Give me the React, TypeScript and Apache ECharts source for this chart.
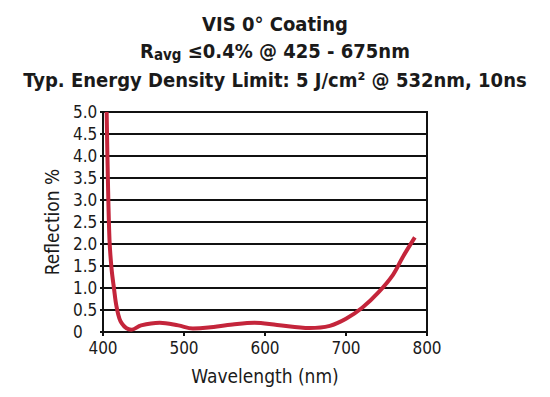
import React, { useEffect, useRef } from "react";
import * as echarts from "echarts";

const titleLine1 = "VIS 0° Coating";
const titleLine2 = "R{sub|avg} ≤0.4% @ 425 - 675nm";
const titleLine3 = "Typ. Energy Density Limit: 5 J/cm² @ 532nm, 10ns";
const xLabel = "Wavelength (nm)";
const yLabel = "Reflection %";

const wavelength = [404.5, 406, 408, 410.5, 413.5, 417, 423, 435, 447, 470, 493, 511, 530, 560, 587, 615, 655, 680, 700, 720, 740, 758, 770, 785];
const reflection = [5.0, 3.5, 2.1, 1.45, 1.0, 0.55, 0.2, 0.05, 0.15, 0.21, 0.15, 0.08, 0.1, 0.17, 0.21, 0.16, 0.09, 0.14, 0.3, 0.55, 0.9, 1.3, 1.7, 2.15];

const FONT = "'DejaVu Sans Condensed', sans-serif";

export default function App() {
  const ref = useRef<HTMLDivElement>(null);
  useEffect(() => {
    if (!ref.current) return;
    const chart = echarts.init(ref.current, undefined, { renderer: "svg" });
    chart.setOption({
      animation: false,
      backgroundColor: "#fff",
      title: [
        { text: titleLine1, left: "center", top: 9, textStyle: { fontFamily: FONT, fontSize: 20, fontWeight: "bold", color: "#1a1a1a" } },
        {
          text: titleLine2, left: "center", top: 34,
          textStyle: {
            fontFamily: FONT, fontSize: 20, fontWeight: "bold", color: "#1a1a1a",
            rich: { sub: { fontFamily: FONT, fontSize: 15, fontWeight: "bold", color: "#1a1a1a", verticalAlign: "bottom", padding: [8, 0, 0, 0] } },
          },
        },
        { text: titleLine3, left: "center", top: 65, textStyle: { fontFamily: FONT, fontSize: 20, fontWeight: "bold", color: "#1a1a1a" } },
      ],
      grid: { left: 103, right: 123, top: 112, bottom: 65, show: true, borderColor: "#111", borderWidth: 2, backgroundColor: "transparent" },
      xAxis: {
        type: "value", min: 400, max: 800, interval: 100,
        name: xLabel, nameLocation: "middle", nameGap: 34,
        nameTextStyle: { fontFamily: FONT, fontSize: 19, color: "#1a1a1a" },
        axisLine: { show: true, lineStyle: { color: "#111", width: 2 } },
        axisTick: { show: true, length: 4, lineStyle: { color: "#111", width: 2 } },
        axisLabel: { fontFamily: FONT, fontSize: 17, color: "#1a1a1a", margin: 7 },
        splitLine: { show: false },
      },
      yAxis: {
        type: "value", min: 0, max: 5, interval: 0.5,
        name: yLabel, nameLocation: "middle", nameGap: 42, nameRotate: 90,
        nameTextStyle: { fontFamily: FONT, fontSize: 19, color: "#1a1a1a" },
        axisLine: { show: true, lineStyle: { color: "#111", width: 2 } },
        axisTick: { show: true, length: 3, lineStyle: { color: "#111", width: 2 } },
        axisLabel: { fontFamily: FONT, fontSize: 17, color: "#1a1a1a", margin: 30, align: "left", formatter: (v: number) => (v === 0 ? "0" : v.toFixed(1)) },
        splitLine: { show: true, lineStyle: { color: "#111", width: 2 } },
      },
      series: [
        {
          type: "line",
          data: wavelength.map((w, i) => [w, reflection[i]]),
          smooth: 0.35,
          symbol: "none",
          lineStyle: { color: "#c4253b", width: 4 },
        },
      ],
    });
    return () => chart.dispose();
  }, []);
  return <div ref={ref} style={{ width: 550, height: 397, position: "absolute", left: 0, top: 0 }} />;
}
